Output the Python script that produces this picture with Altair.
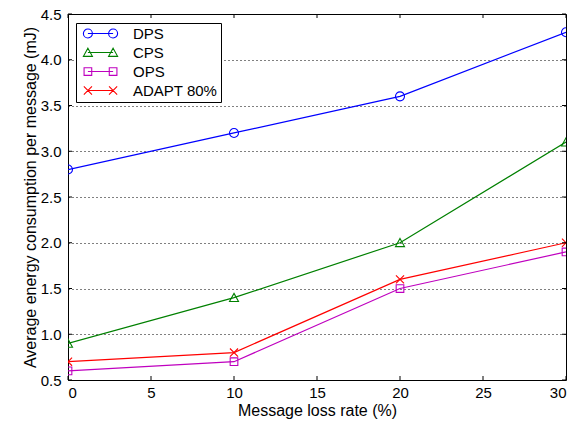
import altair as alt
import pandas as pd

loss_rate = [0, 10, 20, 30]
series_names = ["DPS", "CPS", "OPS", "ADAPT 80%"]
dps = [2.8, 3.2, 3.6, 4.3]
cps = [0.9, 1.4, 2.0, 3.1]
ops = [0.6, 0.7, 1.5, 1.9]
adapt = [0.7, 0.8, 1.6, 2.0]
x_ticks = [0, 5, 10, 15, 20, 25, 30]
y_ticks = [0.5, 1.0, 1.5, 2.0, 2.5, 3.0, 3.5, 4.0, 4.5]

colors = ["#0000ff", "#008000", "#bf00bf", "#ff0000"]

circle = "M-1,0A1,1 0 1,1 1,0A1,1 0 1,1 -1,0Z"
triangle = "M0,-0.95L1,0.85L-1,0.85Z"
square = "M-0.85,-0.85H0.85V0.85H-0.85Z"
xmark = "M-0.9,-0.9L0.9,0.9M-0.9,0.9L0.9,-0.9"
marker_paths = [circle, triangle, square, xmark]


def legend_glyph(kind):
    line = "M-2.8,0L2.8,0"
    if kind == "circle":
        m = lambda c: f"M{c-1},0A1,1 0 1,1 {c+1},0A1,1 0 1,1 {c-1},0Z"
    elif kind == "triangle":
        m = lambda c: f"M{c},-0.95L{c+1},0.85L{c-1},0.85Z"
    elif kind == "square":
        m = lambda c: f"M{c-0.85},-0.85H{c+0.85}V0.85H{c-0.85}Z"
    else:
        m = lambda c: f"M{c-0.9},-0.9L{c+0.9},0.9M{c-0.9},0.9L{c+0.9},-0.9"
    return line + m(-2.8) + m(2.8)


legend_paths = [legend_glyph(k) for k in ["circle", "triangle", "square", "x"]]

rows = []
for name, vals in zip(series_names, [dps, cps, ops, adapt]):
    for x, y in zip(loss_rate, vals):
        rows.append({"rate": x, "energy": y, "series": name})
df = pd.DataFrame(rows)

W, H = 498, 366
FONT = "Liberation Sans"

xscale = alt.Scale(domain=[0, 30], nice=False, zero=False)
yscale = alt.Scale(domain=[0.5, 4.5], nice=False, zero=False)

xenc = alt.X("rate:Q", scale=xscale,
             axis=alt.Axis(title="Message loss rate (%)", values=x_ticks, ticks=False,
                           domain=False, grid=False, labelPadding=5, titlePadding=2,
                           labelFontSize=15, titleFontSize=16, labelColor="black",
                           titleColor="black", titleFontWeight="normal",
                           labelFont=FONT, titleFont=FONT))
yenc = alt.Y("energy:Q", scale=yscale,
             axis=alt.Axis(title="Average energy consumption per message (mJ)", values=y_ticks,
                           format=".1f", ticks=False, domain=False, grid=True,
                           gridColor="black", gridDash=[1, 3], gridWidth=1, gridOpacity=1,
                           labelPadding=7, titlePadding=2, labelFontSize=15, titleFontSize=16,
                           labelColor="black", titleColor="black", titleFontWeight="normal",
                           labelFont=FONT, titleFont=FONT))

color_scale = alt.Scale(domain=series_names, range=colors)

lines = alt.Chart(df).mark_line(strokeWidth=1.2, clip=True).encode(
    x=xenc, y=yenc,
    color=alt.Color("series:N", scale=color_scale, legend=None),
    detail="series:N",
)

points = alt.Chart(df).mark_point(filled=False, size=81, strokeWidth=1.1, opacity=1, clip=True).encode(
    x="rate:Q", y="energy:Q",
    color=alt.Color("series:N", scale=color_scale, legend=None),
    shape=alt.Shape("series:N", scale=alt.Scale(domain=series_names, range=marker_paths), legend=None),
)

legend_props = dict(
    title=None, orient="none", legendX=8, legendY=9,
    strokeColor="black", fillColor="white", padding=3, rowPadding=3,
    cornerRadius=0,
    symbolSize=81, symbolOffset=14, labelOffset=25, symbolOpacity=1,
    symbolStrokeWidth=1.1, labelFontSize=15, labelFont=FONT, labelColor="black",
    labelLimit=300,
)

legend_layer = alt.Chart(df).mark_point(filled=False, size=81, opacity=0, clip=True).encode(
    x="rate:Q", y="energy:Q",
    color=alt.Color("series:N", scale=color_scale, legend=alt.Legend(**legend_props)),
    shape=alt.Shape("series:N", scale=alt.Scale(domain=series_names, range=legend_paths),
                    legend=alt.Legend(**legend_props)),
)

xt = pd.DataFrame({"v": x_ticks})
yt = pd.DataFrame({"v": y_ticks})
tick_len = 4
xt_bottom = alt.Chart(xt).mark_rule(color="black", strokeWidth=1).encode(
    x=alt.X("v:Q", scale=xscale), y=alt.value(H), y2=alt.value(H - tick_len))
xt_top = alt.Chart(xt).mark_rule(color="black", strokeWidth=1).encode(
    x=alt.X("v:Q", scale=xscale), y=alt.value(0), y2=alt.value(tick_len))
yt_left = alt.Chart(yt).mark_rule(color="black", strokeWidth=1).encode(
    y=alt.Y("v:Q", scale=yscale), x=alt.value(0), x2=alt.value(tick_len))
yt_right = alt.Chart(yt).mark_rule(color="black", strokeWidth=1).encode(
    y=alt.Y("v:Q", scale=yscale), x=alt.value(W), x2=alt.value(W - tick_len))

chart = alt.layer(
    lines, points, legend_layer, xt_bottom, xt_top, yt_left, yt_right
).resolve_scale(
    color="independent", shape="independent"
).properties(
    width=W, height=H,
    autosize=alt.AutoSizeParams(type="none"),
    padding={"left": 68, "top": 14, "right": 20, "bottom": 44},
    background="white",
).configure_view(
    stroke="black", strokeWidth=1
)

chart.save("out.html", embed_options={"renderer": "svg", "actions": False})
